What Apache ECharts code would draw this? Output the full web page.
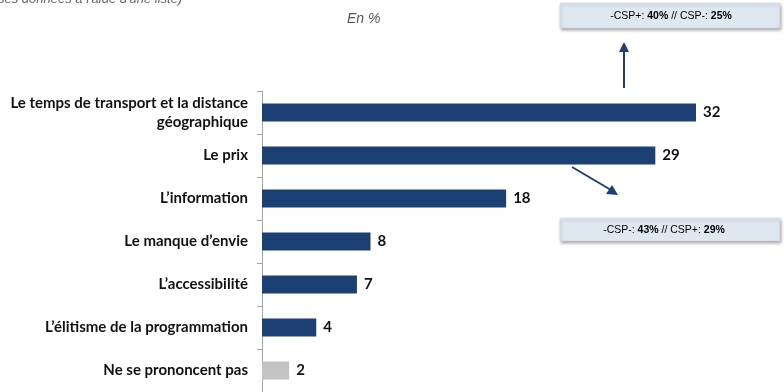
<!DOCTYPE html>
<html>
<head>
<meta charset="utf-8">
<script src="https://cdn.jsdelivr.net/npm/echarts@6/dist/echarts.min.js"></script>
<style>html,body{margin:0;padding:0;background:#fff}#c{width:784px;height:392px}</style>
</head>
<body>
<div id="c"></div>
<script>
const categories = [
  "Le temps de transport et la distance\ngéographique",
  "Le prix",
  "L’information",
  "Le manque d’envie",
  "L’accessibilité",
  "L’élitisme de la programmation",
  "Ne se prononcent pas"
];
const values = [32, 29, 18, 8, 7, 4, 2];
const barColors = ["#1c3f74", "#1c3f74", "#1c3f74", "#1c3f74", "#1c3f74", "#1c3f74", "#c3c3c3"];
const subtitleText = "ses données à l'aide d'une liste)";
const unitText = "En %";
const note1 = ["-CSP+: ", "40%", " // CSP-: ", "25%"];
const note2 = ["-CSP-: ", "43%", " // CSP+: ", "29%"];

const chart = echarts.init(document.getElementById('c'), null, {renderer: 'canvas'});

function richNote(parts) {
  return parts.map((p, i) => i % 2 === 1 ? '{b|' + p + '}' : '{n|' + p + '}').join('');
}
const noteRich = {
  n: {fontFamily: 'Liberation Sans, Arial', fontSize: 10.5, color: '#222'},
  b: {fontFamily: 'Liberation Sans, Arial', fontSize: 10.5, fontWeight: 'bold', color: '#222'}
};

chart.setOption({
  animation: false,
  grid: {left: 262, right: 88, top: 91, bottom: -4, containLabel: false},
  xAxis: {type: 'value', min: 0, max: 32, show: false},
  yAxis: {
    type: 'category',
    data: categories,
    inverse: true,
    axisLine: {show: true, lineStyle: {color: '#a6a6a6', width: 1}},
    axisTick: {show: true, length: 5, lineStyle: {color: '#a6a6a6'}},
    axisLabel: {
      margin: 14,
      fontFamily: 'Lato',
      fontWeight: 'bold',
      fontSize: 15,
      color: '#111',
      align: 'right',
      lineHeight: 19
    },
    splitLine: {show: false}
  },
  series: [{
    type: 'bar',
    data: values.map((v, i) => ({value: v, itemStyle: {color: barColors[i]}})),
    barWidth: 18,
    label: {
      show: true,
      position: 'right',
      distance: 7,
      fontFamily: 'Lato',
      fontWeight: 'bold',
      fontSize: 15,
      color: '#111'
    }
  }],
  graphic: [
    {type: 'text', left: -2, top: -7, style: {text: subtitleText, fontFamily: 'Liberation Sans', fontStyle: 'italic', fontSize: 13, fill: '#666'}},
    {type: 'text', left: 347, top: 12, style: {text: unitText, fontFamily: 'Liberation Sans', fontStyle: 'italic', fontSize: 14, fill: '#555'}},
    {type: 'rect', shape: {x: 560, y: 3, width: 220, height: 25},
     style: {fill: '#dfe7f1', stroke: '#c9d3df', lineWidth: 0.5, shadowBlur: 3, shadowOffsetX: 1, shadowOffsetY: 2, shadowColor: 'rgba(0,0,0,0.35)'}},
    {type: 'text', x: 671, y: 16, style: {text: richNote(note1), rich: noteRich, align: 'center', verticalAlign: 'middle'}},
    {type: 'rect', shape: {x: 560, y: 218, width: 220, height: 23},
     style: {fill: '#dfe7f1', stroke: '#c9d3df', lineWidth: 0.5, shadowBlur: 3, shadowOffsetX: 1, shadowOffsetY: 2, shadowColor: 'rgba(0,0,0,0.35)'}},
    {type: 'text', x: 664, y: 230, style: {text: richNote(note2), rich: noteRich, align: 'center', verticalAlign: 'middle'}},
    {type: 'line', shape: {x1: 624, y1: 88, x2: 624, y2: 50}, style: {stroke: '#1f3f73', lineWidth: 2}},
    {type: 'polygon', shape: {points: [[624, 42], [619, 52], [629, 52]]}, style: {fill: '#1f3f73'}},
    {type: 'line', shape: {x1: 572, y1: 167, x2: 611, y2: 190}, style: {stroke: '#1f3f73', lineWidth: 2}},
    {type: 'polygon', shape: {points: [[618, 195], [606, 194], [612, 185]]}, style: {fill: '#1f3f73'}}
  ]
});
</script>
</body>
</html>
